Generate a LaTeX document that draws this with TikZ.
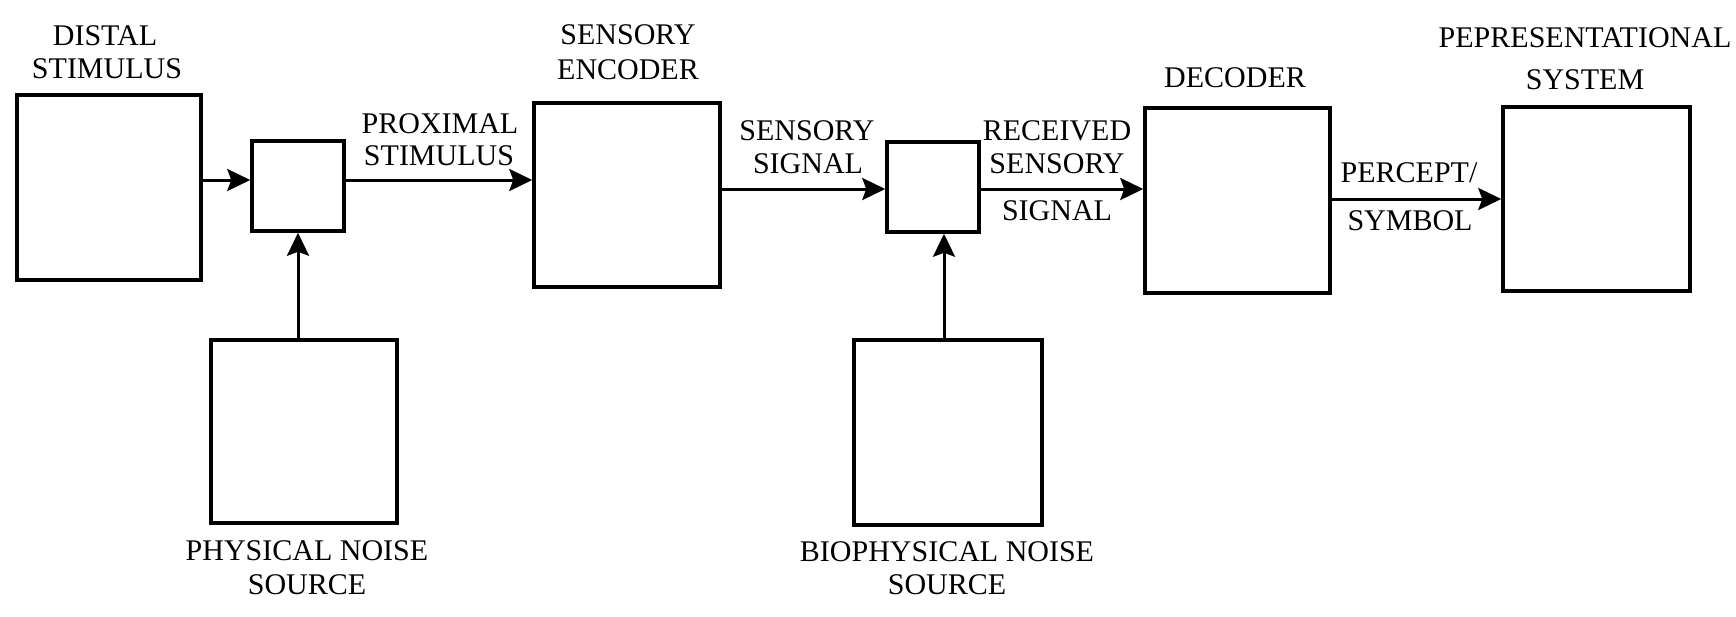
\documentclass[tikz,border=0pt]{standalone}
\usepackage{fontspec}
\setmainfont{Liberation Serif}
\usetikzlibrary{arrows.meta}
\begin{document}
\begin{tikzpicture}[x=1pt,y=-1pt,
  blockbox/.style={draw=black,line width=3.5pt,inner sep=0pt,fill=white},
  lbl/.style={font=\fontsize{30}{33}\selectfont,inner sep=0pt,anchor=base},
  arr/.style={line width=3pt,-{Stealth[length=23pt,width=22pt,inset=4pt]}}]
\useasboundingbox (0,0) rectangle (1736,616);
% boxes
\node[blockbox,minimum width=184pt,minimum height=185pt] (distal) at (109,187.5) {};
\node[blockbox,minimum width=92pt,minimum height=90pt] (mixa) at (298,186) {};
\node[blockbox,minimum width=186pt,minimum height=184pt] (enc) at (627,195) {};
\node[blockbox,minimum width=92pt,minimum height=90pt] (mixb) at (933,187) {};
\node[blockbox,minimum width=185pt,minimum height=185pt] (dec) at (1237.5,200.5) {};
\node[blockbox,minimum width=187pt,minimum height=184pt] (rep) at (1596.5,199) {};
\node[blockbox,minimum width=186pt,minimum height=183pt] (phys) at (304,431.5) {};
\node[blockbox,minimum width=188pt,minimum height=185pt] (bio) at (948,432.5) {};
% labels
\node[lbl] (l1a) at (105,45) {DISTAL};
\node[lbl] (l1b) at (107,78) {STIMULUS};
\node[lbl] (l2a) at (440,133) {PROXIMAL};
\node[lbl] (l2b) at (439,165) {STIMULUS};
\node[lbl] (l3a) at (628,44) {SENSORY};
\node[lbl] (l3b) at (628,79) {ENCODER};
\node[lbl] (l4a) at (807,140) {SENSORY};
\node[lbl] (l4b) at (808,173) {SIGNAL};
\node[lbl] (l5a) at (1057,140) {RECEIVED};
\node[lbl] (l5b) at (1057,173) {SENSORY};
\node[lbl] (l5c) at (1057,220) {SIGNAL};
\node[lbl] (l6) at (1235,87) {DECODER};
\node[lbl] (l7a) at (1409,182) {PERCEPT/};
\node[lbl] (l7b) at (1410,230) {SYMBOL};
\node[lbl] (l8a) at (1585,47) {PEPRESENTATIONAL};
\node[lbl] (l8b) at (1585,89) {SYSTEM};
\node[lbl] (l9a) at (307,560) {PHYSICAL NOISE};
\node[lbl] (l9b) at (307,594) {SOURCE};
\node[lbl] (l10a) at (947,561) {BIOPHYSICAL NOISE};
\node[lbl] (l10b) at (947,594) {SOURCE};
% connectors
\coordinate (ina) at ([yshift=6pt]mixa.west);
\draw[arr] (distal.east |- ina) -- (ina);
\coordinate (inenc) at (enc.west |- ina);
\draw[arr] (mixa.east |- ina) -- (inenc);
\coordinate (inb) at ([yshift=-2pt]mixb.west);
\draw[arr] (enc.east |- inb) -- (inb);
\coordinate (indec) at (dec.west |- inb);
\draw[arr] (mixb.east |- inb) -- (indec);
\draw[arr] (dec.east |- rep.west) -- (rep.west);
\draw[arr] (phys.north -| mixa.south) -- (mixa.south);
\coordinate (bup) at ([xshift=-4pt]bio.north);
\draw[arr] (bup) -- (bup |- mixb.south);
\end{tikzpicture}
\end{document}
